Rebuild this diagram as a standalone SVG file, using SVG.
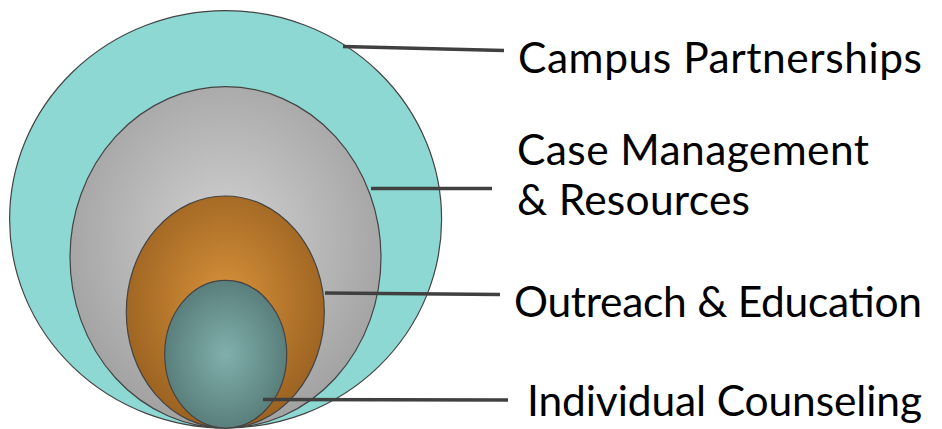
<svg xmlns="http://www.w3.org/2000/svg" width="942" height="429" viewBox="0 0 942 429">
<defs>
<radialGradient id="gGray" cx="0.5" cy="0.45" r="0.55">
<stop offset="0" stop-color="#d2d2d2"/>
<stop offset="1" stop-color="#a2a2a2"/>
</radialGradient>
<radialGradient id="gOrange" cx="0.5" cy="0.45" r="0.55">
<stop offset="0" stop-color="#d8923a"/>
<stop offset="1" stop-color="#9b6221"/>
</radialGradient>
<radialGradient id="gTeal" cx="0.5" cy="0.5" r="0.55">
<stop offset="0" stop-color="#80b0ac"/>
<stop offset="1" stop-color="#567a77"/>
</radialGradient>
<style>
.ring{stroke:#444;stroke-width:1.2}
.lbl{font-family:Lato,"Open Sans","Liberation Sans",sans-serif;font-size:42.5px;fill:#000}
.conn line{stroke:#404040;stroke-width:3.5}
</style>
</defs>
<rect width="942" height="429" fill="#fff"/>
<g id="campus"><ellipse class="ring" cx="225.6" cy="219.3" rx="216" ry="208.7" fill="#8dd8d2"/></g>
<g id="case"><ellipse class="ring" cx="225.5" cy="257.3" rx="155.5" ry="170.7" fill="url(#gGray)"/></g>
<g id="outreach"><ellipse class="ring" cx="225.3" cy="312" rx="99" ry="116" fill="url(#gOrange)"/></g>
<g id="individual"><ellipse class="ring" cx="225.7" cy="354.2" rx="61" ry="73.8" fill="url(#gTeal)"/></g>
<g id="connectors" class="conn">
<line x1="343" y1="46.5" x2="504" y2="50.5"/>
<line x1="371" y1="188.5" x2="492" y2="188.5"/>
<line x1="325" y1="293" x2="500" y2="294.5"/>
<line x1="263" y1="399.5" x2="508" y2="400"/>
</g>
<g id="labels">
<text class="lbl" x="518" y="73" textLength="404" lengthAdjust="spacing">Campus Partnerships</text>
<text class="lbl" x="517" y="165" textLength="352" lengthAdjust="spacing">Case Management</text>
<text class="lbl" x="517" y="215" textLength="233" lengthAdjust="spacing">&amp; Resources</text>
<text class="lbl" x="514" y="317" textLength="408" lengthAdjust="spacing">Outreach &amp; Education</text>
<text class="lbl" x="527" y="416" textLength="395" lengthAdjust="spacing">Individual Counseling</text>
</g>
</svg>
